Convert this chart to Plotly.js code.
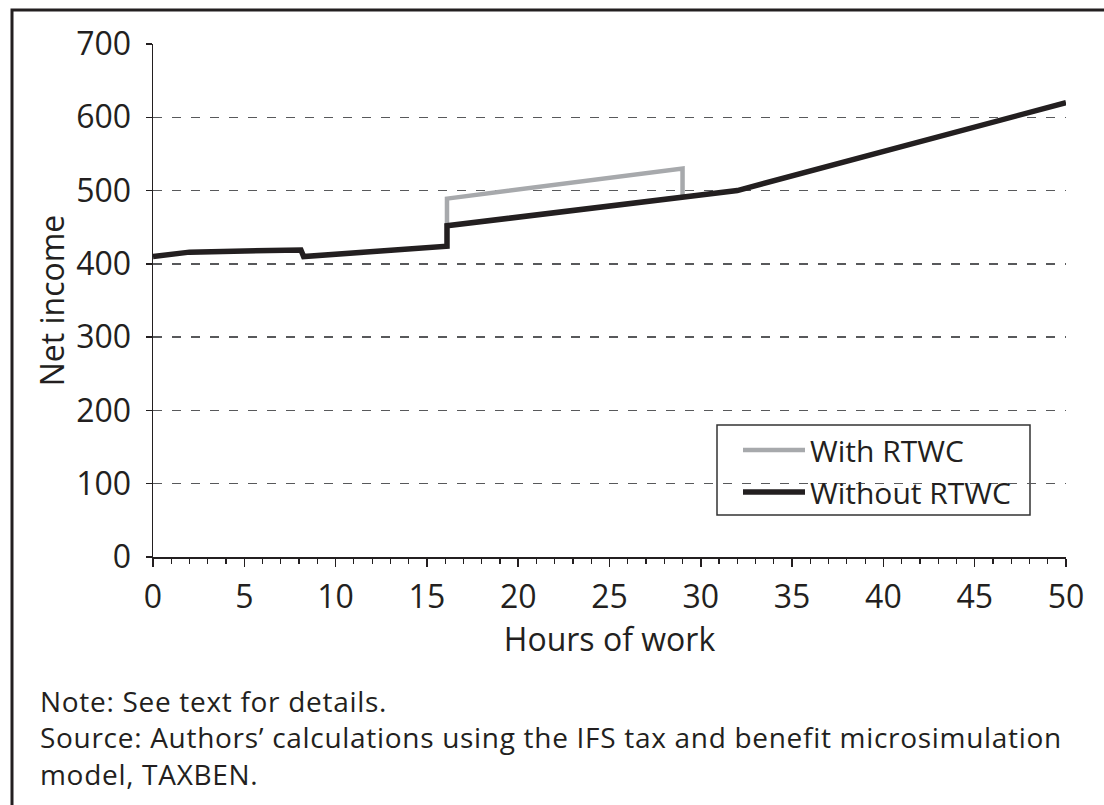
<!DOCTYPE html>
<html>
<head>
<meta charset="utf-8">
<script src="https://cdn.plot.ly/plotly-3.0.1.min.js"></script>
<style>
  html, body { margin: 0; padding: 0; background: #ffffff; }
  #chart { width: 1104px; height: 805px; }
  #chart .annotation-text { letter-spacing: 0.7px; }
</style>
</head>
<body>
<div id="chart"></div>
<script>
// Data
const seriesNames = ["With RTWC", "Without RTWC"];
const hoursWith = [16.1, 16.1, 29.0, 29.0];
const incomeWith = [452, 489, 530, 492];
const hoursWithout = [0, 2, 8.1, 8.25, 16.1, 16.1, 32, 50];
const incomeWithout = [410, 416, 419, 410, 424, 452, 500, 620];
const xTickVals = [0, 5, 10, 15, 20, 25, 30, 35, 40, 45, 50];
const yTickVals = [0, 100, 200, 300, 400, 500, 600, 700];
const noteLines = [
  "Note: See text for details.",
  "Source: Authors\u2019 calculations using the IFS tax and benefit microsimulation",
  "model, TAXBEN."
];

const ink = "#231f20";
const fontFam = "Open Sans, Noto Sans, sans-serif";

// Pixel helpers for layout decorations (paper coordinates)
const L = 153, R = 1066, T = 44, B = 557, W = 1104, H = 805;
const px = v => (v - L) / (R - L);
const py = v => (B - v) / (B - T);

const traces = [
  {
    x: hoursWith, y: incomeWith, name: seriesNames[0], type: "scatter", mode: "lines",
    line: { color: "#a7a9ac", width: 4.5 }, legendgroup: "a"
  },
  {
    x: hoursWithout, y: incomeWithout, name: seriesNames[1], type: "scatter", mode: "lines",
    line: { color: ink, width: 5.5 }, legendgroup: "b"
  }
];

const layout = {
  width: W, height: H,
  paper_bgcolor: "#ffffff", plot_bgcolor: "#ffffff",
  margin: { l: L, r: W - R, t: T, b: H - B, pad: 0 },
  font: { family: fontFam, color: ink, size: 32 },
  showlegend: true,
  legend: {
    x: px(738), y: py(471), xanchor: "left", yanchor: "middle",
    bgcolor: "rgba(0,0,0,0)", borderwidth: 0,
    font: { family: fontFam, size: 30, color: ink },
    itemwidth: 62, tracegroupgap: 12, traceorder: "normal"
  },
  xaxis: {
    range: [0, 50], showgrid: false, zeroline: false,
    showline: true, linecolor: ink, linewidth: 1.5,
    tickmode: "array", tickvals: xTickVals, ticktext: xTickVals.map(String),
    ticks: "outside", ticklen: 8, tickwidth: 1.5, tickcolor: ink,
    minor: { dtick: 1, ticks: "outside", ticklen: 5, tickwidth: 1.2, tickcolor: ink, showgrid: false },
    tickfont: { family: fontFam, size: 32, color: ink },
    ticklabelstandoff: 3,
    title: { text: "Hours of work", font: { family: fontFam, size: 32, color: ink }, standoff: 0 },
    fixedrange: true
  },
  yaxis: {
    range: [0, 700], zeroline: false,
    showline: true, linecolor: ink, linewidth: 1.5,
    tickmode: "array", tickvals: yTickVals, ticktext: yTickVals.map(String),
    ticks: "outside", ticklen: 6, tickwidth: 1.5, tickcolor: ink,
    showgrid: true, gridcolor: "#58595b", gridwidth: 1.5, griddash: "9px,10px",
    tickfont: { family: fontFam, size: 32, color: ink },
    ticklabelstandoff: 8,
    title: { text: "Net income", font: { family: fontFam, size: 32, color: ink }, standoff: 2 },
    fixedrange: true
  },
  yaxis2: {
    range: [0, 700], overlaying: "y", side: "left", anchor: "x",
    showgrid: false, zeroline: false, showline: false, showticklabels: false,
    tickmode: "array", tickvals: yTickVals,
    ticks: "inside", ticklen: 6, tickwidth: 1.5, tickcolor: ink, fixedrange: true
  },
  shapes: [
    // outer frame of the figure (runs off the right and bottom of the picture)
    { type: "rect", xref: "paper", yref: "paper",
      x0: px(12), x1: px(W + 20), y0: py(H + 20), y1: py(10),
      line: { color: ink, width: 3 }, fillcolor: "rgba(0,0,0,0)", layer: "above" },
    // legend box
    { type: "rect", xref: "paper", yref: "paper",
      x0: px(717), x1: px(1030), y0: py(515), y1: py(425),
      line: { color: "#333333", width: 1.5 }, fillcolor: "#ffffff", layer: "below" }
  ],
  annotations: [{
    text: noteLines.join("<br>"), xref: "paper", yref: "paper",
    x: px(38), y: py(737), xanchor: "left", yanchor: "middle",
    showarrow: false, align: "left",
    font: { family: fontFam, size: 28, color: ink }
  }]
};

Plotly.newPlot("chart", traces, layout, { displayModeBar: false, staticPlot: true });
</script>
</body>
</html>
